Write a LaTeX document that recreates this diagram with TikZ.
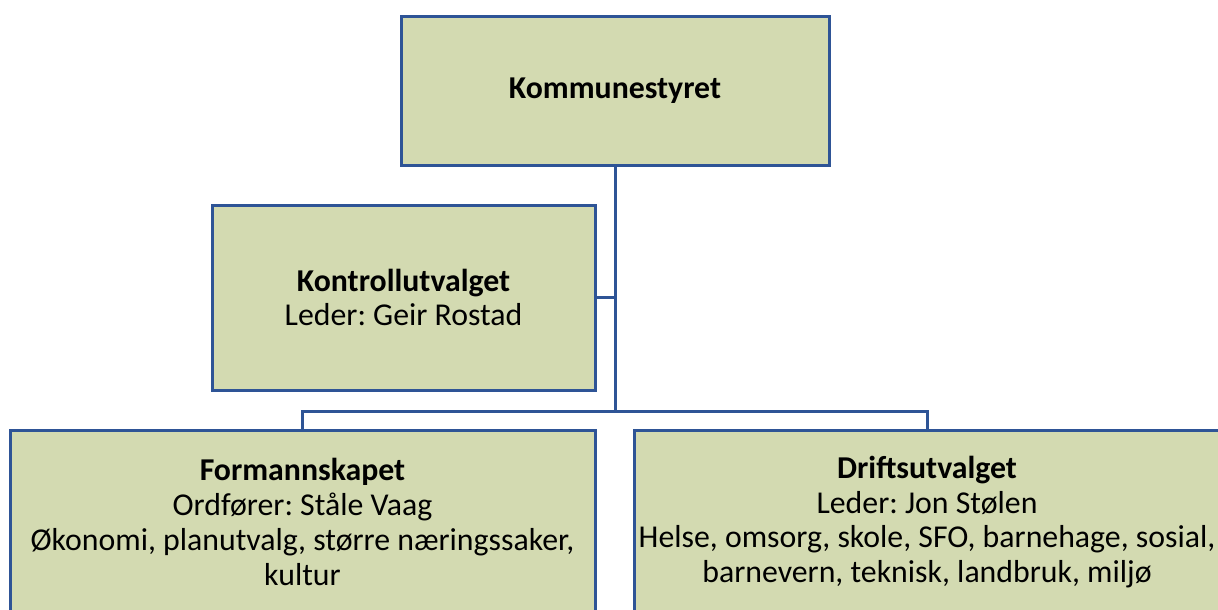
\documentclass[tikz,border=0pt]{standalone}
\usepackage{fontspec}
\setmainfont{Carlito}
\frenchspacing
\definecolor{boxfill}{RGB}{211,218,177}
\definecolor{boxline}{RGB}{46,84,150}
\begin{document}
\begin{tikzpicture}[x=1pt,y=-1pt,
  orgbox/.style={draw=boxline, fill=boxfill, line width=3pt, rectangle,
    inner sep=0pt, align=center, font=\fontsize{31.8}{34.8}\selectfont},
  link/.style={draw=boxline, line width=3pt}]
\useasboundingbox (0,0) rectangle (1218,610);
\node[orgbox, minimum width=428pt, minimum height=148pt] (K) at (615,91) {\textbf{Kommunestyret}};
\node[orgbox, minimum width=383pt, minimum height=185pt] (C) at (403.5,297.5) {\textbf{Kontrollutvalget}\\Leder: Geir Rostad};
\node[orgbox, minimum width=585pt, minimum height=184pt] (F) at (302.5,522) {\textbf{Formannskapet}\\Ordfører: Ståle Vaag\\Økonomi, planutvalg, større næringssaker,\\kultur};
\node[orgbox, minimum width=586pt, minimum height=184pt] (D) at (927,522) {\textbf{Driftsutvalget}\\Leder: Jon Stølen\\Helse, omsorg, skole, SFO, barnehage, sosial,\\barnevern, teknisk, landbruk, miljø};
\coordinate (hub) at (615,411);
\draw[link] (K.south) -- (hub);
\draw[link] (F.north) |- (hub) -| (D.north);
\draw[link] (C.east) -- (C.east -| K.south);
\end{tikzpicture}
\end{document}
